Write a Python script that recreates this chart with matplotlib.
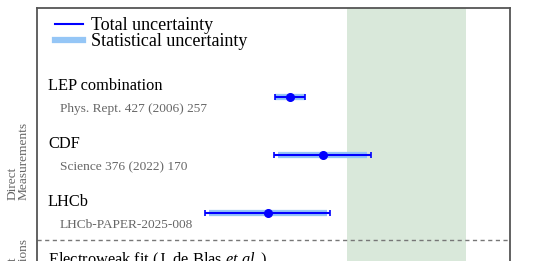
import matplotlib
matplotlib.use("Agg")
import matplotlib.pyplot as plt
from matplotlib.lines import Line2D
import matplotlib.transforms as mtransforms

plt.rcParams['font.family'] = ['Liberation Serif', 'DejaVu Serif']
plt.rcParams['mathtext.fontset'] = 'custom'
plt.rcParams['mathtext.rm'] = 'Liberation Serif'
plt.rcParams['mathtext.it'] = 'Liberation Serif:italic'

# Data (arbitrary units)
names = ["LEP combination", "CDF", "LHCb", "Electroweak fit (J. de Blas $\\mathit{et\\ al.}$)"]
refs = ["Phys. Rept. 427 (2006) 257", "Science 376 (2022) 170", "LHCb-PAPER-2025-008", ""]
centers = [53.5, 60.4, 48.8]
total_err = [3.2, 10.2, 13.2]
stat_err = [3.1, 9.4, 12.5]
band_lo, band_hi = 65.5, 90.7

fig = plt.figure(figsize=(5.33, 2.61), dpi=100)
ax = fig.add_axes([37/533, 1 - 356/261, 473/533, 348/261])
ax.set_xlim(0, 100)
ax.set_ylim(4.466, -1.534)

ax.axvspan(band_lo, band_hi, color='#d9e8da', zorder=0, lw=0)

for i, (c, t, s) in enumerate(zip(centers, total_err, stat_err)):
    ax.plot([c - s, c + s], [i, i], color='#95c6f6', lw=4.5, solid_capstyle='butt', zorder=2)
    ax.errorbar([c], [i], xerr=[t], fmt='o', color='#0000ff', ms=5.5, lw=1.5,
                capsize=2.5, capthick=1.2, zorder=3)

trans = mtransforms.blended_transform_factory(ax.transAxes, ax.transData)
for i, (n, r) in enumerate(zip(names, refs)):
    ax.text(11/473, i - 0.19, n, transform=trans, fontsize=11.8, va='center', ha='left', color='black')
    if r:
        ax.text(23/473, i + 0.21, r, transform=trans, fontsize=9.6, va='center', ha='left', color='#666666')

ax.axhline(2.466, color='#777777', lw=1.0, ls=(0, (3, 2.5)), zorder=1)

for s in ax.spines.values():
    s.set_color('#555555')
    s.set_linewidth(1.3)
ax.set_xticks([])
ax.set_yticks([])

# Section labels
ax.text(-18.5/473, 1.776, "Direct\nMeasurements", transform=trans, rotation=90, fontsize=9.6,
        ha='center', va='bottom', multialignment='left', color='#666666', linespacing=0.9)
ax.text(-18.5/473, 2.431, "Indirect\nPredictions", transform=trans, rotation=90, fontsize=9.6,
        ha='center', va='top', multialignment='left', color='#666666', linespacing=0.9)

handles = [Line2D([], [], color='#0000ff', lw=1.5),
           Line2D([], [], color='#95c6f6', lw=4.5)]
ax.legend(handles, ["Total uncertainty", "Statistical uncertainty"], loc='upper left',
          bbox_to_anchor=(0.02, 1.0), frameon=False, fontsize=13, handlelength=1.5,
          handletextpad=0.45, labelspacing=-0.05, borderaxespad=0.1)

fig.savefig("out.png", dpi=100)
